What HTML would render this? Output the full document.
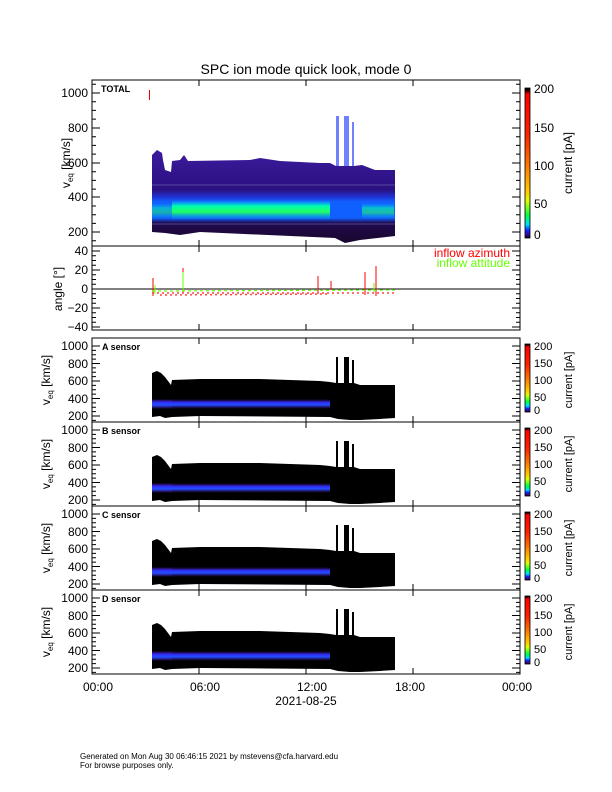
<!DOCTYPE html>
<html><head><meta charset="utf-8"><style>
body{margin:0;background:#fff}
svg{display:block}
text{font-family:"Liberation Sans",sans-serif}
</style></head><body>
<svg width="612" height="792" viewBox="0 0 612 792" xmlns="http://www.w3.org/2000/svg">
<defs>
<linearGradient id="cb" x1="0" y1="1" x2="0" y2="0">
<stop offset="0" stop-color="#000"/><stop offset="0.02" stop-color="#3a0a8a"/><stop offset="0.05" stop-color="#1020ff"/><stop offset="0.09" stop-color="#00e0ff"/><stop offset="0.15" stop-color="#00ff40"/><stop offset="0.25" stop-color="#dfff00"/><stop offset="0.3" stop-color="#ffd000"/><stop offset="0.5" stop-color="#ff7000"/><stop offset="0.7" stop-color="#ff2000"/><stop offset="0.96" stop-color="#ff0000"/><stop offset="0.98" stop-color="#300000"/><stop offset="1" stop-color="#000"/>
</linearGradient>
<linearGradient id="topg" gradientUnits="userSpaceOnUse" x1="0" y1="155" x2="0" y2="240">
<stop offset="0" stop-color="#3a1a9a"/><stop offset="0.41" stop-color="#2a1080"/><stop offset="0.49" stop-color="#2030d0"/><stop offset="0.55" stop-color="#1060ff"/><stop offset="0.74" stop-color="#1060ff"/><stop offset="0.8" stop-color="#200a50"/><stop offset="1" stop-color="#1a0830"/>
</linearGradient>
<linearGradient id="band" x1="0" y1="0" x2="0" y2="1">
<stop offset="0" stop-color="#00c0ff" stop-opacity="0"/><stop offset="0.3" stop-color="#00ffb0"/><stop offset="0.6" stop-color="#20ff60"/><stop offset="1" stop-color="#00c0ff" stop-opacity="0"/>
</linearGradient>
<linearGradient id="sband" x1="0" y1="0" x2="0" y2="1">
<stop offset="0" stop-color="#5010a0" stop-opacity="0"/><stop offset="0.35" stop-color="#3030ff"/><stop offset="0.6" stop-color="#2050ff"/><stop offset="1" stop-color="#5010a0" stop-opacity="0"/>
</linearGradient>
<g id="sens">
<polygon fill="#000" points="152,79 152,35 157,33 161,35 165,39 171,47 172,42 200,41 230,41 260,41 290,42 320,43 330,44 336,45 336,19 338,19 338,45 344,45 344,19 349,19 349,45 352,45 352,22 354,22 354,45 360,47 395,47 395,80 380,81 360,82 350,82 338,81 330,79 200,78 172,79 165,80 160,78"/>
<rect x="152" y="61" width="178" height="10" fill="url(#sband)"/>
<rect x="152" y="61" width="20" height="10" fill="url(#sband)" opacity="0.6"/>
</g>
<g id="sticks" stroke="#000">
<path d="M92,8h8M92,25.5h8M92,43h8M92,60.5h8M92,78h8M92,12.4h4M92,16.8h4M92,21.1h4M92,29.9h4M92,34.3h4M92,38.6h4M92,47.4h4M92,51.8h4M92,56.1h4M92,64.9h4M92,69.3h4M92,73.6h4M92,82.4h4
M520,8h-8M520,25.5h-8M520,43h-8M520,60.5h-8M520,78h-8M520,12.4h-4M520,16.8h-4M520,21.1h-4M520,29.9h-4M520,34.3h-4M520,38.6h-4M520,47.4h-4M520,51.8h-4M520,56.1h-4M520,64.9h-4M520,69.3h-4M520,73.6h-4M520,82.4h-4"/>
</g>
</defs>

<text x="306" y="74" font-size="14" text-anchor="middle">SPC ion mode quick look, mode 0</text>

<!-- TOP PANEL -->
<polygon fill="url(#topg)" points="152,232 152,155 157,150 162,153 163,160 165,170 171,172 172,161 180,160 184,155 188,161 250,160 260,158 280,161 320,163 330,163 336,166 336,116 339,116 339,166 344,166 344,116 349,116 349,166 352,166 352,122 354,122 354,166 362,165 375,170 395,170 395,236 360,240 345,243 335,238 200,232 180,235 165,233"/>
<g fill="#7080ff"><rect x="336" y="116" width="3" height="50"/><rect x="344" y="116" width="5" height="50"/><rect x="352" y="122" width="2" height="44"/></g>
<rect x="172" y="200" width="158" height="20" fill="url(#band)"/>
<rect x="362" y="203" width="32" height="16" fill="url(#band)" opacity="0.6"/>
<rect x="152" y="203" width="20" height="16" fill="url(#band)" opacity="0.5"/>
<line x1="152" y1="185" x2="395" y2="185" stroke="#8080c0" stroke-width="0.5"/>
<line x1="152" y1="224" x2="395" y2="224" stroke="#8080c0" stroke-width="0.5"/>
<rect x="149" y="90" width="1" height="10" fill="#e00"/>
<g fill="none" stroke="#000">
<rect x="92" y="80" width="428" height="166"/>
<rect x="92" y="246" width="428" height="84"/>
<rect x="92" y="338" width="428" height="84"/>
<rect x="92" y="422" width="428" height="84"/>
<rect x="92" y="506" width="428" height="84"/>
<rect x="92" y="590" width="428" height="84"/>
</g>
<text x="101" y="92" font-size="9" font-weight="bold">TOTAL</text>
<g font-size="12" text-anchor="end">
<text x="88" y="97">1000</text><text x="88" y="132">800</text><text x="88" y="167">600</text><text x="88" y="201">400</text><text x="88" y="236">200</text>
</g>
<g stroke="#000">
<path d="M92,93h8M92,128h8M92,163h8M92,197h8M92,232h8M520,93h-8M520,128h-8M520,163h-8M520,197h-8M520,232h-8
M92,84.3h4M92,101.7h4M92,110.4h4M92,119.1h4M92,136.7h4M92,145.4h4M92,154.1h4M92,171.7h4M92,180.4h4M92,189.1h4M92,206h4M92,214.7h4M92,223.4h4M92,240.7h4
M520,84.3h-4M520,101.7h-4M520,110.4h-4M520,119.1h-4M520,136.7h-4M520,145.4h-4M520,154.1h-4M520,171.7h-4M520,180.4h-4M520,189.1h-4M520,206h-4M520,214.7h-4M520,223.4h-4M520,240.7h-4"/>
<path d="M92,251h8M92,270h8M92,289h8M92,308h8M92,327h8M520,251h-8M520,270h-8M520,289h-8M520,308h-8M520,327h-8
M92,255.7h4M92,260.5h4M92,265.2h4M92,274.7h4M92,279.5h4M92,284.2h4M92,293.7h4M92,298.5h4M92,303.2h4M92,312.7h4M92,317.5h4M92,322.2h4
M520,255.7h-4M520,260.5h-4M520,265.2h-4M520,274.7h-4M520,279.5h-4M520,284.2h-4M520,293.7h-4M520,298.5h-4M520,303.2h-4M520,312.7h-4M520,317.5h-4M520,322.2h-4"/>
</g>
<text transform="translate(70,163) rotate(-90)" font-size="12" text-anchor="middle">v<tspan font-size="8" dy="3">eq</tspan><tspan dy="-3"> [km/s]</tspan></text>
<rect x="525" y="88" width="5" height="150" fill="url(#cb)" stroke="#000" stroke-width="0.8"/>
<g font-size="12"><text x="534" y="93">200</text><text x="534" y="132">150</text><text x="534" y="170">100</text><text x="534" y="208">50</text><text x="534" y="239">0</text></g>
<text transform="translate(572,163) rotate(-90)" font-size="12" text-anchor="middle">current [pA]</text>

<!-- ANGLE PANEL -->
<line x1="92" y1="289" x2="520" y2="289" stroke="#000"/>
<g font-size="12" text-anchor="end"><text x="88" y="255">40</text><text x="88" y="274">20</text><text x="88" y="293">0</text><text x="88" y="312">−20</text><text x="88" y="331">−40</text></g>
<text transform="translate(62,289) rotate(-90)" font-size="12" text-anchor="middle">angle [°]</text>
<g stroke="#f00" stroke-width="1">
<line x1="153" y1="278" x2="153" y2="296"/><line x1="183" y1="268" x2="183" y2="292"/><line x1="318" y1="276" x2="318" y2="292"/><line x1="365" y1="272" x2="365" y2="295"/><line x1="376" y1="266" x2="376" y2="296"/><line x1="331" y1="281" x2="331" y2="290"/>
</g>
<g stroke="#f44" stroke-width="1.5" stroke-dasharray="2,3"><line x1="152" y1="293" x2="395" y2="293"/><line x1="160" y1="295" x2="330" y2="294"/></g>
<g stroke="#6f0" stroke-width="1.2" stroke-dasharray="3,3"><line x1="152" y1="291" x2="395" y2="290"/></g>
<g stroke="#6f0"><line x1="183" y1="272" x2="183" y2="291"/><line x1="155" y1="285" x2="155" y2="294"/><line x1="374" y1="283" x2="374" y2="292"/></g>
<text x="510" y="257" font-size="12" fill="#f00" text-anchor="end">inflow azimuth</text>
<text x="510" y="267" font-size="12" fill="#6f0" text-anchor="end">inflow attitude</text>

<!-- SENSOR PANELS -->
<g transform="translate(0,338)"><use href="#sens"/><use href="#sticks"/></g>
<g transform="translate(0,422)"><use href="#sens"/><use href="#sticks"/></g>
<g transform="translate(0,506)"><use href="#sens"/><use href="#sticks"/></g>
<g transform="translate(0,590)"><use href="#sens"/><use href="#sticks"/></g>

<g font-size="12" text-anchor="end">
<g transform="translate(0,338)"><text x="88" y="12">1000</text><text x="88" y="30">800</text><text x="88" y="47">600</text><text x="88" y="65">400</text><text x="88" y="82">200</text></g>
<g transform="translate(0,422)"><text x="88" y="12">1000</text><text x="88" y="30">800</text><text x="88" y="47">600</text><text x="88" y="65">400</text><text x="88" y="82">200</text></g>
<g transform="translate(0,506)"><text x="88" y="12">1000</text><text x="88" y="30">800</text><text x="88" y="47">600</text><text x="88" y="65">400</text><text x="88" y="82">200</text></g>
<g transform="translate(0,590)"><text x="88" y="12">1000</text><text x="88" y="30">800</text><text x="88" y="47">600</text><text x="88" y="65">400</text><text x="88" y="82">200</text></g>
</g>
<g font-size="9" font-weight="bold">
<text x="102" y="350">A sensor</text><text x="102" y="434">B sensor</text><text x="102" y="518">C sensor</text><text x="102" y="602">D sensor</text>
</g>
<g font-size="12" text-anchor="middle">
<text transform="translate(50,380) rotate(-90)">v<tspan font-size="8" dy="3">eq</tspan><tspan dy="-3"> [km/s]</tspan></text>
<text transform="translate(50,464) rotate(-90)">v<tspan font-size="8" dy="3">eq</tspan><tspan dy="-3"> [km/s]</tspan></text>
<text transform="translate(50,548) rotate(-90)">v<tspan font-size="8" dy="3">eq</tspan><tspan dy="-3"> [km/s]</tspan></text>
<text transform="translate(50,632) rotate(-90)">v<tspan font-size="8" dy="3">eq</tspan><tspan dy="-3"> [km/s]</tspan></text>
</g>
<g>
<rect x="525" y="344" width="5" height="68" fill="url(#cb)" stroke="#000" stroke-width="0.8"/>
<rect x="525" y="428" width="5" height="68" fill="url(#cb)" stroke="#000" stroke-width="0.8"/>
<rect x="525" y="512" width="5" height="68" fill="url(#cb)" stroke="#000" stroke-width="0.8"/>
<rect x="525" y="596" width="5" height="68" fill="url(#cb)" stroke="#000" stroke-width="0.8"/>
</g>
<g font-size="11">
<g transform="translate(0,338)"><text x="534" y="12">200</text><text x="534" y="29">150</text><text x="534" y="46">100</text><text x="534" y="63">50</text><text x="534" y="76">0</text></g>
<g transform="translate(0,422)"><text x="534" y="12">200</text><text x="534" y="29">150</text><text x="534" y="46">100</text><text x="534" y="63">50</text><text x="534" y="76">0</text></g>
<g transform="translate(0,506)"><text x="534" y="12">200</text><text x="534" y="29">150</text><text x="534" y="46">100</text><text x="534" y="63">50</text><text x="534" y="76">0</text></g>
<g transform="translate(0,590)"><text x="534" y="12">200</text><text x="534" y="29">150</text><text x="534" y="46">100</text><text x="534" y="63">50</text><text x="534" y="76">0</text></g>
</g>
<g font-size="11" text-anchor="middle">
<text transform="translate(572,380) rotate(-90)">current [pA]</text>
<text transform="translate(572,464) rotate(-90)">current [pA]</text>
<text transform="translate(572,548) rotate(-90)">current [pA]</text>
<text transform="translate(572,632) rotate(-90)">current [pA]</text>
</g>

<!-- x ticks -->
<g stroke="#000">
<path d="M199,246v-6M306,246v-6M413,246v-6M199,80v6M306,80v6M413,80v6
M199,330v-6M306,330v-6M413,330v-6M199,246v6M306,246v6M413,246v6
M199,422v-6M306,422v-6M413,422v-6M199,338v6M306,338v6M413,338v6
M199,506v-6M306,506v-6M413,506v-6M199,422v6M306,422v6M413,422v6
M199,590v-6M306,590v-6M413,590v-6M199,506v6M306,506v6M413,506v6
M199,674v-6M306,674v-6M413,674v-6M199,590v6M306,590v6M413,590v6"/>
</g>
<g font-size="12" text-anchor="middle">
<text x="98" y="691">00:00</text><text x="205" y="691">06:00</text><text x="312" y="691">12:00</text><text x="410" y="691">18:00</text><text x="517" y="691">00:00</text>
<text x="306" y="705">2021-08-25</text>
</g>
<text x="80" y="759" font-size="8">Generated on Mon Aug 30 06:46:15 2021 by mstevens@cfa.harvard.edu</text>
<text x="80" y="768" font-size="8">For browse purposes only.</text>
</svg>
</body></html>
